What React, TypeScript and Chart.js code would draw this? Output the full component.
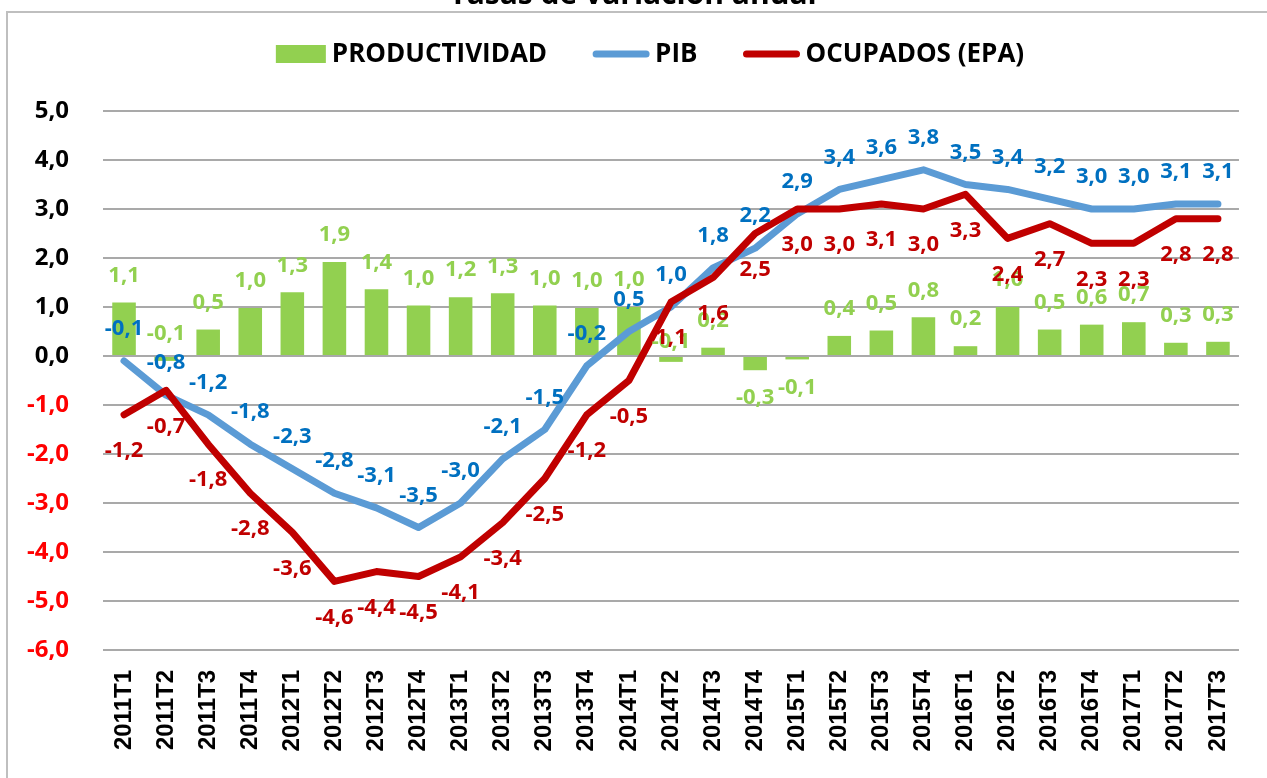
import React, { useEffect, useRef } from "react";
import { Chart, registerables } from "chart.js";

Chart.register(...registerables);

// ---------- DATA ----------
const chartTitle = "Tasas de variación anual";

const categories = [
  "2011T1", "2011T2", "2011T3", "2011T4",
  "2012T1", "2012T2", "2012T3", "2012T4",
  "2013T1", "2013T2", "2013T3", "2013T4",
  "2014T1", "2014T2", "2014T3", "2014T4",
  "2015T1", "2015T2", "2015T3", "2015T4",
  "2016T1", "2016T2", "2016T3", "2016T4",
  "2017T1", "2017T2", "2017T3",
];

const productividad = [
  1.09, -0.1, 0.54, 0.98,
  1.3, 1.92, 1.36, 1.03,
  1.2, 1.28, 1.03, 0.98,
  1.0, -0.12, 0.17, -0.29,
  -0.07, 0.41, 0.52, 0.79,
  0.2, 1.0, 0.54, 0.64,
  0.69, 0.27, 0.29,
];

const pib = [
  -0.1, -0.8, -1.2, -1.8,
  -2.3, -2.8, -3.1, -3.5,
  -3.0, -2.1, -1.5, -0.2,
  0.5, 1.0, 1.8, 2.2,
  2.9, 3.4, 3.6, 3.8,
  3.5, 3.4, 3.2, 3.0,
  3.0, 3.1, 3.1,
];

const ocupados = [
  -1.2, -0.7, -1.8, -2.8,
  -3.6, -4.6, -4.4, -4.5,
  -4.1, -3.4, -2.5, -1.2,
  -0.5, 1.1, 1.6, 2.5,
  3.0, 3.0, 3.1, 3.0,
  3.3, 2.4, 2.7, 2.3,
  2.3, 2.8, 2.8,
];

const seriesNames = ["PRODUCTIVIDAD", "PIB", "OCUPADOS (EPA)"];
const yMin = -6;
const yMax = 5;
const yStep = 1;

// ---------- STYLE ----------
const GREEN = "#92D050";
const BLUE_LINE = "#5B9BD5";
const BLUE_TEXT = "#0070C0";
const RED = "#C00000";
const NEG_TICK = "#FF0000";
const FONT = "'Open Sans', 'Liberation Sans', sans-serif";
const XFONT = "'Liberation Sans', Arial, sans-serif";

const fmt = (v: number) => v.toFixed(1).replace(".", ",");

const framePlugin = {
  id: "frameAndTitle",
  beforeDraw(chart: any) {
    const ctx = chart.ctx;
    ctx.save();
    ctx.fillStyle = "#ffffff";
    ctx.fillRect(0, 0, chart.width, chart.height);
    // title (partly cut off at the top)
    ctx.fillStyle = "#000000";
    ctx.font = `bold 30px ${FONT}`;
    ctx.textAlign = "center";
    ctx.textBaseline = "alphabetic";
    ctx.fillText(chartTitle, 633, 4);
    // chart frame
    ctx.strokeStyle = "#bfbfbf";
    ctx.lineWidth = 2;
    ctx.strokeRect(7, 12, chart.width + 20, chart.height + 20);
    ctx.restore();
  },
};

const legendPlugin = {
  id: "customLegend",
  afterDraw(chart: any) {
    const ctx = chart.ctx;
    ctx.save();
    ctx.font = `bold 26px ${FONT}`;
    ctx.textBaseline = "middle";
    ctx.textAlign = "left";
    const cy = 54;
    const symW = [50, 56, 56];
    const gapSymText = 6;
    const gapItems = 46;
    const widths = chart.data.datasets.map((d: any) => ctx.measureText(d.label).width);
    let total = 0;
    widths.forEach((w: number, i: number) => {
      total += symW[i] + gapSymText + w;
      if (i < widths.length - 1) total += gapItems;
    });
    let x = 650 - total / 2;
    chart.data.datasets.forEach((d: any, i: number) => {
      if (d.type === "line") {
        ctx.strokeStyle = d.borderColor;
        ctx.lineWidth = 7;
        ctx.lineCap = "round";
        ctx.beginPath();
        ctx.moveTo(x + 3, cy);
        ctx.lineTo(x + symW[i] - 3, cy);
        ctx.stroke();
      } else {
        ctx.fillStyle = d.backgroundColor;
        ctx.fillRect(x, cy - 9, symW[i], 18);
      }
      x += symW[i] + gapSymText;
      ctx.fillStyle = "#000000";
      ctx.fillText(d.label, x, cy + 1);
      x += widths[i] + gapItems;
    });
    ctx.restore();
  },
};

const labelsPlugin = {
  id: "valueLabels",
  afterDatasetsDraw(chart: any) {
    const ctx = chart.ctx;
    ctx.save();
    ctx.font = `bold 22px ${FONT}`;
    ctx.textAlign = "center";
    ctx.textBaseline = "middle";
    const liftedBars = new Set([1, 13]);
    // bars
    chart.getDatasetMeta(0).data.forEach((el: any, i: number) => {
      const v = productividad[i];
      let y;
      if (liftedBars.has(i)) y = el.base - (i === 1 ? 23 : 15);
      else if (v >= 0) y = el.y - 27;
      else y = el.y + 28;
      ctx.fillStyle = GREEN;
      ctx.fillText(fmt(v), el.x, y);
    });
    // PIB
    chart.getDatasetMeta(1).data.forEach((el: any, i: number) => {
      ctx.fillStyle = BLUE_TEXT;
      ctx.fillText(fmt(pib[i]), el.x, el.y - 32);
    });
    // Ocupados
    chart.getDatasetMeta(2).data.forEach((el: any, i: number) => {
      ctx.fillStyle = RED;
      ctx.fillText(fmt(ocupados[i]), el.x, el.y + 36);
    });
    ctx.restore();
  },
};

export default function App() {
  const ref = useRef<HTMLCanvasElement>(null);

  useEffect(() => {
    const canvas = ref.current;
    if (!canvas) return;
    const chart = new Chart(canvas, {
      type: "bar",
      data: {
        labels: categories,
        datasets: [
          {
            type: "bar",
            label: seriesNames[0],
            data: productividad,
            backgroundColor: GREEN,
            borderWidth: 0,
            categoryPercentage: 1,
            barPercentage: 0.56,
            order: 3,
          } as any,
          {
            type: "line",
            label: seriesNames[1],
            data: pib,
            borderColor: BLUE_LINE,
            backgroundColor: BLUE_LINE,
            borderWidth: 7,
            pointRadius: 0,
            tension: 0,
            borderJoinStyle: "round",
            borderCapStyle: "round",
            order: 2,
          } as any,
          {
            type: "line",
            label: seriesNames[2],
            data: ocupados,
            borderColor: RED,
            backgroundColor: RED,
            borderWidth: 7,
            pointRadius: 0,
            tension: 0,
            borderJoinStyle: "round",
            borderCapStyle: "round",
            order: 1,
          } as any,
        ],
      },
      options: {
        responsive: false,
        animation: false,
        devicePixelRatio: 1,
        layout: { padding: { left: 8, right: 14, top: 111, bottom: 0 } },
        plugins: {
          legend: { display: false },
          title: { display: false },
          tooltip: { enabled: false },
        },
        scales: {
          x: {
            type: "category",
            offset: true,
            grid: { display: false, drawTicks: false },
            border: { display: false },
            ticks: {
              autoSkip: false,
              minRotation: 90,
              maxRotation: 90,
              padding: 20,
              color: "#000000",
              font: { family: XFONT, size: 24, weight: "bold" },
            },
            afterFit: (scale: any) => {
              scale.height = 128;
            },
          },
          y: {
            min: yMin,
            max: yMax,
            grid: { color: "#a9a9a9", lineWidth: 2, drawTicks: false },
            border: { display: false },
            ticks: {
              stepSize: yStep,
              padding: 34,
              color: (c: any) => (c.tick && c.tick.value < 0 ? NEG_TICK : "#000000"),
              font: { family: FONT, size: 24, weight: "bold" },
              callback: (v: any) => fmt(Number(v)),
            },
            afterFit: (scale: any) => {
              scale.width = 95;
            },
          },
        },
      },
      plugins: [framePlugin, legendPlugin, labelsPlugin],
    });
    return () => chart.destroy();
  }, []);

  return (
    <div style={{ position: "absolute", left: 0, top: 0, width: 1267, height: 778 }}>
      <canvas ref={ref} width={1267} height={778} style={{ display: "block", width: 1267, height: 778 }} />
    </div>
  );
}
